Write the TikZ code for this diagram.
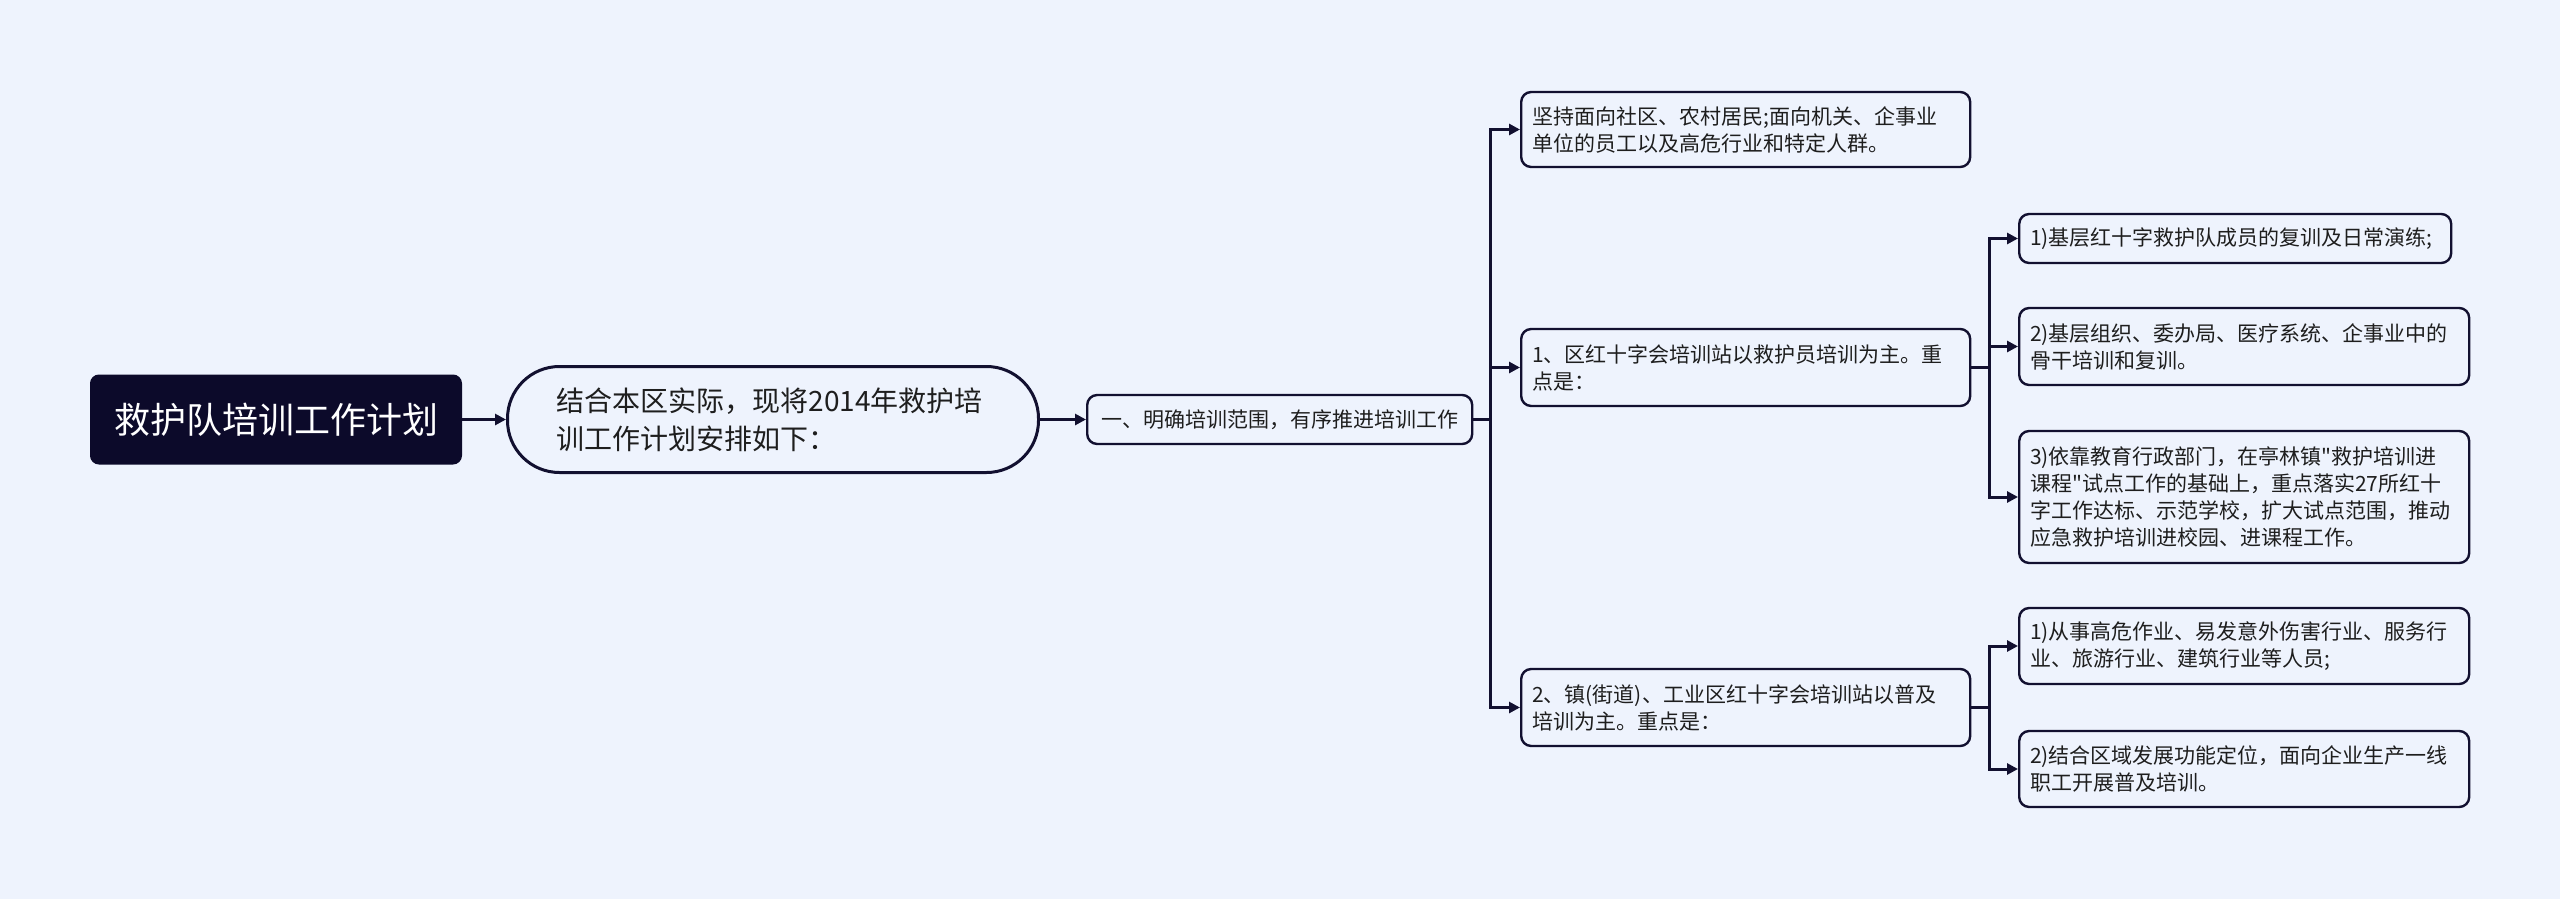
\documentclass[tikz,border=0pt]{standalone}
\usepackage{fontspec}
\setmainfont{Noto Sans CJK SC}[Ligatures=TeXOff]
\usetikzlibrary{arrows.meta}
\definecolor{bg}{RGB}{238,243,253}
\definecolor{ink}{RGB}{18,16,48}
\definecolor{rootfill}{RGB}{12,10,42}
\definecolor{txt}{RGB}{30,30,30}
\begin{document}
\begin{tikzpicture}[x=1pt,y=-1pt,
  box/.style={draw=ink, line width=2.4pt, rounded corners=10pt, fill=bg, anchor=west,
    align=left, inner xsep=11pt, inner ysep=0pt, text=txt,
    font=\fontsize{21pt}{27pt}\selectfont},
  rootbox/.style={draw=rootfill, line width=2pt, rounded corners=8pt, fill=rootfill, anchor=west,
    text=white, inner sep=0pt, font=\fontsize{36pt}{44pt}\selectfont},
  pillbox/.style={draw=ink, line width=3pt, rounded corners=52pt, fill=bg, anchor=west,
    align=left, inner xsep=49pt, inner ysep=0pt, text=txt,
    font=\fontsize{28pt}{38pt}\selectfont},
  conn/.style={draw=ink, line width=3pt, -{Triangle[length=11pt,width=11pt]}},
]
\fill[bg] (0,0) rectangle (2560,899);
\useasboundingbox (0,0) rectangle (2560,899);

\node[rootbox, minimum width=370pt, minimum height=88pt] (root) at (90,419.5) {救护队培训工作计划};
\node[pillbox, minimum width=531pt, minimum height=106pt, text width=433pt] (n2) at (506,419.5)
  {结合本区实际，现将2014年救护培\\训工作计划安排如下：};
\node[box, minimum width=385pt, minimum height=49pt] (n3) at (1086,419.5)
  {一、明确培训范围，有序推进培训工作};

\node[box, minimum width=449pt, minimum height=75pt, text width=427pt] (a) at (1520,129.5)
  {坚持面向社区、农村居民;面向机关、企事业\\单位的员工以及高危行业和特定人群。};
\node[box, minimum width=449pt, minimum height=77pt, text width=427pt] (b) at (1520,367.5)
  {1、区红十字会培训站以救护员培训为主。重\\点是：};
\node[box, minimum width=449pt, minimum height=77pt, text width=427pt] (c) at (1520,707.5)
  {2、镇(街道)、工业区红十字会培训站以普及\\培训为主。重点是：};

\node[box, minimum width=432pt, minimum height=49pt, text width=410pt] (b1) at (2018,238.5)
  {1)基层红十字救护队成员的复训及日常演练;};
\node[box, minimum width=450pt, minimum height=77pt, text width=428pt] (b2) at (2018,346.5)
  {2)基层组织、委办局、医疗系统、企事业中的\\骨干培训和复训。};
\node[box, minimum width=450pt, minimum height=132pt, text width=428pt] (b3) at (2018,497)
  {3)依靠教育行政部门，在亭林镇"救护培训进\\课程"试点工作的基础上，重点落实27所红十\\字工作达标、示范学校，扩大试点范围，推动\\应急救护培训进校园、进课程工作。};
\node[box, minimum width=450pt, minimum height=76pt, text width=428pt] (c1) at (2018,646)
  {1)从事高危作业、易发意外伤害行业、服务行\\业、旅游行业、建筑行业等人员;};
\node[box, minimum width=450pt, minimum height=76pt, text width=428pt] (c2) at (2018,769)
  {2)结合区域发展功能定位，面向企业生产一线\\职工开展普及培训。};

\draw[conn] (root.east) -- (n2.west);
\draw[conn] (n2.east) -- (n3.west);
\foreach \t in {a,b,c}
  \draw[conn] (n3.east) -- ++(17,0) |- (\t.west);
\foreach \t in {b1,b2,b3}
  \draw[conn] (b.east) -- ++(18,0) |- (\t.west);
\foreach \t in {c1,c2}
  \draw[conn] (c.east) -- ++(18,0) |- (\t.west);
\end{tikzpicture}
\end{document}
